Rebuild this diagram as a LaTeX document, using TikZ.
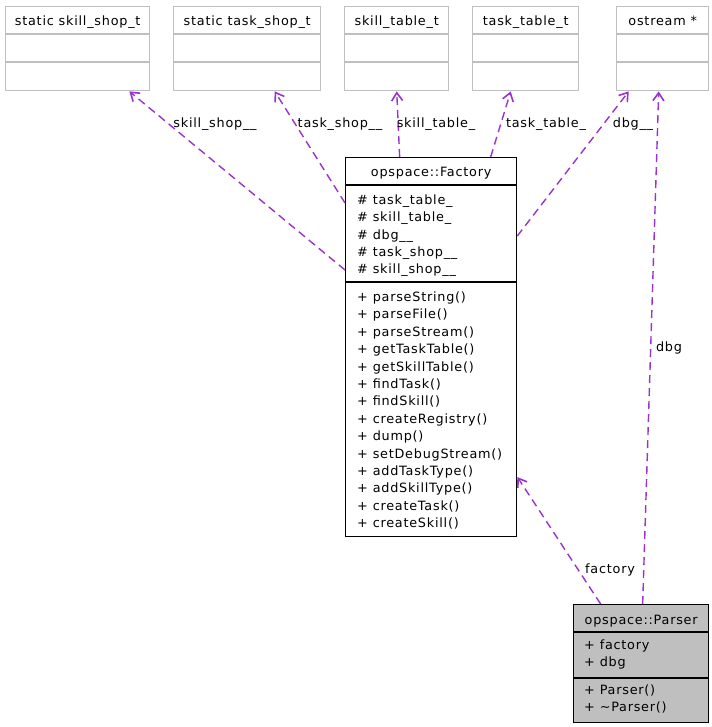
\documentclass[tikz,border=0pt]{standalone}
\usepackage{fontspec}
\setmainfont{DejaVu Sans}[LetterSpace=6]
\usetikzlibrary{arrows.meta, positioning}
\definecolor{depviolet}{HTML}{9A32CD}
\definecolor{extgray}{HTML}{BFBFBF}

\begin{document}
\begin{tikzpicture}[x=1pt, y=-1pt,
    font=\fontsize{12.8}{17.4}\selectfont,
    extbox/.style={rectangle, draw=extgray, line width=1.4pt, fill=white,
                   anchor=north west, inner sep=0pt},
    clsbox/.style={rectangle, draw=black, line width=1.3pt, fill=white,
                   anchor=north west, inner sep=0pt},
    extsep/.style={draw=extgray, line width=1.4pt},
    clssep/.style={draw=black, line width=1.3pt},
    title/.style={anchor=base, inner sep=0pt},
    member/.style={anchor=base west, inner sep=0pt},
    dep/.style={-{Straight Barb[length=8pt, width=11pt, line width=1.6pt]},
                dash pattern=on 8pt off 5pt, line width=1.4pt, color=depviolet},
    elabel/.style={anchor=base, inner sep=0pt}
  ]
    \useasboundingbox (0,0) rectangle (711,727);

    %% external types (top row)
    \foreach \name/\x/\w/\txt in {skillshop/5/144/static skill\_shop\_t,
        taskshop/173/147/static task\_shop\_t,
        skilltable/344/104/skill\_table\_t,
        tasktable/472/106/task\_table\_t,
        ostream/616/92/ostream *}{
      \node[extbox, minimum width=\w, minimum height=84] (\name) at (\x,6) {};
      \draw[extsep] ([yshift=-28pt]\name.north west) -- ([yshift=-28pt]\name.north east);
      \draw[extsep] ([yshift=-56pt]\name.north west) -- ([yshift=-56pt]\name.north east);
      \node[title] (\name-title) at ([yshift=-20pt]\name.north) {\txt};
    }

    %% opspace::Factory
    \node[clsbox, minimum width=171, minimum height=379] (factory) at (345,157) {};
    \draw[clssep] ([yshift=-28pt]factory.north west) -- ([yshift=-28pt]factory.north east);
    \draw[clssep] ([yshift=-125pt]factory.north west) -- ([yshift=-125pt]factory.north east);
    \node[title] (factory-title) at ([yshift=-20pt]factory.north) {opspace::Factory};
    \foreach \txt [count=\i from 0] in {\# task\_table\_, \# skill\_table\_, \# dbg\_\_,
        \# task\_shop\_\_, \# skill\_shop\_\_}
      \node[member] (factory-attr\i) at (357,{204.3+17.35*\i}) {\txt};
    \foreach \txt [count=\i from 0] in {+ parseString(), + parseFile(), + parseStream(),
        + getTaskTable(), + getSkillTable(), + findTask(), + findSkill(),
        + createRegistry(), + dump(), + setDebugStream(), + addTaskType(),
        + addSkillType(), + createTask(), + createSkill()}
      \node[member] (factory-op\i) at (357,{301.5+17.4*\i}) {\txt};

    %% opspace::Parser
    \node[clsbox, fill=extgray, minimum width=135, minimum height=118] (parser) at (573,604) {};
    \draw[clssep] ([yshift=-28pt]parser.north west) -- ([yshift=-28pt]parser.north east);
    \draw[clssep] ([yshift=-74pt]parser.north west) -- ([yshift=-74pt]parser.north east);
    \node[title] (parser-title) at ([yshift=-20pt]parser.north) {opspace::Parser};
    \node[member] (parser-attr0) at (584,649.5) {+ factory};
    \node[member] (parser-attr1) at (584,666.5) {+ dbg};
    \node[member] (parser-op0) at (584,694.5) {+ Parser()};
    \node[member] (parser-op1) at (584,711.5) {+ \textasciitilde Parser()};

    %% usage relations
    \draw[dep] ([yshift=-113pt]factory.north west) -- ([xshift=-21pt]skillshop.south east);
    \draw[dep] ([yshift=-46pt]factory.north west) -- ([xshift=27.5pt]taskshop.south);
    \draw[dep] ([xshift=-31.5pt]factory.north) -- (skilltable.south);
    \draw[dep] ([xshift=59.5pt]factory.north) -- ([xshift=-15pt]tasktable.south);
    \draw[dep] ([yshift=-79pt]factory.north east) -- ([xshift=-34pt]ostream.south);
    \draw[dep] ([xshift=1.5pt]parser.north) -- ([xshift=-4pt]ostream.south);
    \draw[dep] ([xshift=-40.5pt]parser.north) -- ([yshift=-320pt]factory.north east);

    \node[elabel] (lbl-skillshop) at (215,128) {skill\_shop\_\_};
    \node[elabel] (lbl-taskshop) at (340,128) {task\_shop\_\_};
    \node[elabel] (lbl-skilltable) at (436,128) {skill\_table\_};
    \node[elabel] (lbl-tasktable) at (546,128) {task\_table\_};
    \node[elabel] (lbl-dbgfac) at (633,128) {dbg\_\_};
    \node[elabel] (lbl-dbg) at (669,351) {dbg};
    \node[elabel] (lbl-factory) at (610,573) {factory};
  \end{tikzpicture}
\end{document}
